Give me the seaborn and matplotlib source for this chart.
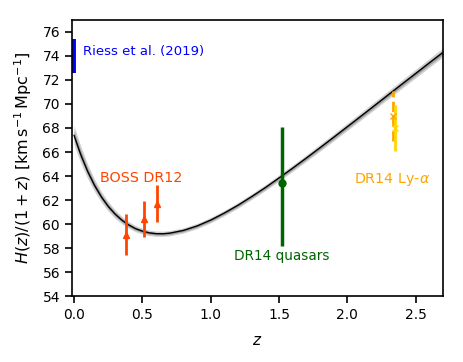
import numpy as np
import matplotlib
matplotlib.use("Agg")
import matplotlib.pyplot as plt
import seaborn as sns

# model curve H(z)/(1+z)
z_model = [0.0, 0.05, 0.1, 0.15, 0.2, 0.25, 0.3, 0.35, 0.4, 0.45, 0.5, 0.55,
           0.6, 0.65, 0.7, 0.8, 0.9, 1.0, 1.1, 1.2, 1.3, 1.4, 1.5, 1.6, 1.7,
           1.8, 1.9, 2.0, 2.1, 2.2, 2.3, 2.4, 2.5, 2.6, 2.7]
h_model = [67.40, 65.77, 64.39, 63.23, 62.27, 61.48, 60.84, 60.33, 59.93,
           59.62, 59.41, 59.27, 59.20, 59.19, 59.24, 59.47, 59.84, 60.33,
           60.92, 61.57, 62.29, 63.04, 63.84, 64.66, 65.50, 66.36, 67.23,
           68.11, 68.99, 69.88, 70.77, 71.66, 72.54, 73.43, 74.30]
# half widths of the grey bands
band_outer = [0.80, 0.70, 0.60, 0.52, 0.45, 0.40, 0.35, 0.31, 0.28, 0.26,
              0.24, 0.23, 0.22, 0.22, 0.22, 0.22, 0.22, 0.23, 0.23, 0.24,
              0.24, 0.25, 0.26, 0.27, 0.28, 0.29, 0.30, 0.31, 0.32, 0.33,
              0.34, 0.35, 0.36, 0.37, 0.38]

# data points
z_riess, h_riess, e_riess = [0.0], [74.03], [1.42]
z_boss = [0.38, 0.51, 0.61]
h_boss = [59.1, 60.45, 61.7]
e_boss = [1.7, 1.5, 1.55]
z_qso, h_qso = [1.52], [63.4]
e_qso_lo, e_qso_hi = [5.2], [4.7]
z_lya1, h_lya1, e_lya1 = [2.33], [69.0], [2.1]
z_lya2, h_lya2, e_lya2 = [2.345], [68.0], [1.95]

sns.set_style("ticks")
plt.rcParams["font.family"] = ["DejaVu Sans"]
plt.rcParams["mathtext.fontset"] = "dejavusans"
for key in ["text.color", "axes.labelcolor", "xtick.color", "ytick.color"]:
    plt.rcParams[key] = "black"

fig = plt.figure(figsize=(4.64, 3.62), dpi=100)
ax = fig.add_axes([0.155, 0.182, 0.8, 0.763])

zm = np.array(z_model)
hm = np.array(h_model)
bo = np.array(band_outer)
ax.fill_between(zm, hm - bo, hm + bo, color="0.55", alpha=0.4, lw=0)
ax.fill_between(zm, hm - bo / 2, hm + bo / 2, color="0.4", alpha=0.45, lw=0)
sns.lineplot(x=z_model, y=h_model, color="black", lw=1.0, ax=ax)

ax.errorbar(z_riess, h_riess, yerr=e_riess, fmt="none", ecolor="blue",
            elinewidth=2.8)
ax.errorbar(z_boss, h_boss, yerr=e_boss, fmt="^", color="orangered",
            ms=5, elinewidth=2)
ax.errorbar(z_qso, h_qso, yerr=[e_qso_lo, e_qso_hi], fmt="o",
            color="darkgreen", ms=5, elinewidth=2.5)
eb = ax.errorbar(z_lya1, h_lya1, yerr=e_lya1, fmt="x", color="orange",
                 ms=5, elinewidth=2)
eb[-1][0].set_linestyle("--")
ax.errorbar(z_lya2, h_lya2, yerr=e_lya2, fmt="x", color="gold",
            ms=5, elinewidth=2)

ax.text(0.065, 74.35, "Riess et al. (2019)", color="blue", fontsize=9.5,
        va="center")
ax.text(0.19, 63.8, "BOSS DR12", color="orangered", fontsize=10.3,
        va="center")
ax.text(1.52, 57.3, "DR14 quasars", color="darkgreen", fontsize=9.8,
        va="center", ha="center")
ax.text(2.045, 63.7, r"DR14 Ly-$\alpha$", color="orange", fontsize=10.3,
        va="center")

ax.set_xlim(-0.015, 2.7)
ax.set_ylim(54, 77)
ax.set_yticks(np.arange(54, 77, 2))
ax.set_xticks([0.0, 0.5, 1.0, 1.5, 2.0, 2.5])
ax.set_xlabel(r"$z$", fontsize=11, labelpad=8)
ax.set_ylabel(r"$H(z)/(1+z)\ [\mathrm{km\,s^{-1}\,Mpc^{-1}}]$", fontsize=11.5,
              labelpad=6)
ax.tick_params(labelsize=10, length=5, width=1.2, color="black")
for s in ax.spines.values():
    s.set_color("black")
    s.set_linewidth(1.2)

fig.savefig("out.png", dpi=100)
